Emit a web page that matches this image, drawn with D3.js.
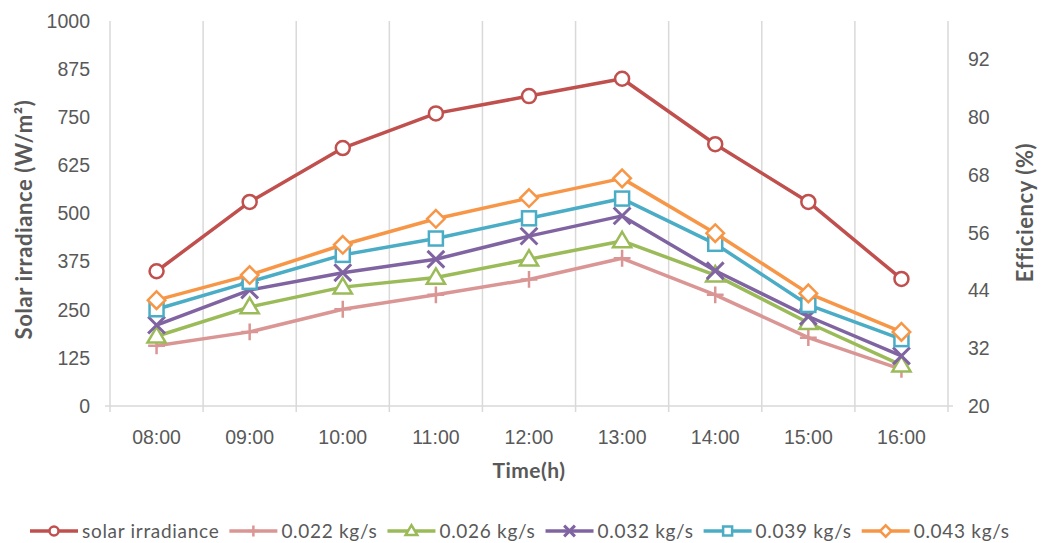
<!DOCTYPE html>
<html>
<head>
<meta charset="utf-8">
<script src="https://cdn.jsdelivr.net/npm/d3@7/dist/d3.min.js"></script>
<style>
  body { margin: 0; background: #fff; }
  svg { font-family: Lato, "Open Sans", sans-serif; }
</style>
</head>
<body>
<div id="chart"></div>
<script>
// categories
const hours = ["08:00", "09:00", "10:00", "11:00", "12:00", "13:00", "14:00", "15:00", "16:00"];

// left axis (W/m2)
const solarIrradiance = [350, 530, 670, 760, 805, 850, 680, 530, 330];

// right axis (%)
const eff022 = [32.5, 35.4, 40.1, 43.1, 46.3, 50.7, 43.1, 34.2, 27.6];
const eff026 = [34.5, 40.6, 44.7, 46.7, 50.5, 54.3, 47.2, 37.3, 28.5];
const eff032 = [36.8, 44.1, 47.7, 50.5, 55.3, 59.5, 48.1, 38.6, 30.4];
const eff039 = [40.1, 45.8, 51.4, 54.8, 59.0, 63.1, 53.7, 41.0, 33.9];
const eff043 = [42.0, 47.2, 53.5, 58.9, 63.2, 67.3, 55.9, 43.4, 35.4];

const leftTicks = [0, 125, 250, 375, 500, 625, 750, 875, 1000];
const rightTicks = [20, 32, 44, 56, 68, 80, 92];

const series = [
  { name: "solar irradiance", values: solarIrradiance, axis: "left",  color: "#c0504d", marker: "circle" },
  { name: "0.022 kg/s",       values: eff022,          axis: "right", color: "#da9694", marker: "plus" },
  { name: "0.026 kg/s",       values: eff026,          axis: "right", color: "#9bbb59", marker: "triangle" },
  { name: "0.032 kg/s",       values: eff032,          axis: "right", color: "#8064a2", marker: "cross" },
  { name: "0.039 kg/s",       values: eff039,          axis: "right", color: "#4bacc6", marker: "square" },
  { name: "0.043 kg/s",       values: eff043,          axis: "right", color: "#f79646", marker: "diamond" }
];

const width = 1042, height = 543;
const margin = { top: 21, right: 94, bottom: 137, left: 110 };
const innerW = width - margin.left - margin.right;
const innerH = height - margin.top - margin.bottom;
const grey = "#595959", lineGrey = "#d9d9d9";

const svg = d3.select("#chart").append("svg")
  .attr("width", width)
  .attr("height", height);

const g = svg.append("g").attr("transform", `translate(${margin.left},${margin.top})`);

const x = d3.scaleBand().domain(hours).range([0, innerW]);
const yLeft = d3.scaleLinear().domain([0, 1000]).range([innerH, 0]);
const yRight = d3.scaleLinear().domain([20, 100]).range([innerH, 0]);

// vertical gridlines at category boundaries
const bounds = hours.map(h => x(h)).concat([innerW]);
g.append("g").selectAll("line")
  .data(bounds)
  .enter().append("line")
  .attr("x1", d => d).attr("x2", d => d)
  .attr("y1", 0).attr("y2", innerH + 6)
  .attr("stroke", lineGrey)
  .attr("stroke-width", 1.5);

// x axis line
g.append("line")
  .attr("x1", -5).attr("x2", innerW + 5)
  .attr("y1", innerH).attr("y2", innerH)
  .attr("stroke", lineGrey).attr("stroke-width", 1.5);

// axes (labels only)
const xAxis = g.append("g")
  .attr("transform", `translate(0,${innerH})`)
  .call(d3.axisBottom(x).tickSize(0).tickPadding(24));

const leftAxis = g.append("g")
  .call(d3.axisLeft(yLeft).tickValues(leftTicks).tickFormat(d3.format("d")).tickSize(0).tickPadding(20));

const rightAxis = g.append("g")
  .attr("transform", `translate(${innerW},0)`)
  .call(d3.axisRight(yRight).tickValues(rightTicks).tickFormat(d3.format("d")).tickSize(0).tickPadding(20));

[xAxis, leftAxis, rightAxis].forEach(a => {
  a.select(".domain").remove();
  a.selectAll("text")
    .attr("fill", grey)
    .style("font-size", "19.5px");
});

// axis titles
svg.append("text")
  .attr("transform", `translate(32,${margin.top + innerH / 2 + 6}) rotate(-90)`)
  .attr("text-anchor", "middle")
  .attr("fill", grey)
  .style("font-size", "22px").style("font-weight", "bold")
  .style("letter-spacing", "0.6px")
  .text("Solar irradiance (W/m²)");

svg.append("text")
  .attr("transform", `translate(1033,${margin.top + innerH / 2 - 1}) rotate(-90)`)
  .attr("text-anchor", "middle")
  .attr("fill", grey)
  .style("font-size", "22px").style("font-weight", "bold")
  .style("letter-spacing", "0.6px")
  .text("Efficiency (%)");

svg.append("text")
  .attr("x", margin.left + innerW / 2)
  .attr("y", 478)
  .attr("text-anchor", "middle")
  .attr("fill", grey)
  .style("font-size", "21px").style("font-weight", "bold")
  .style("letter-spacing", "0.5px")
  .text("Time(h)");

// marker drawing
function drawMarker(sel, type, color, size) {
  const s = size;
  if (type === "circle") {
    sel.append("circle").attr("r", s).attr("fill", "#fff").attr("stroke", color).attr("stroke-width", 2.5);
  } else if (type === "square") {
    sel.append("rect").attr("x", -s).attr("y", -s).attr("width", 2 * s).attr("height", 2 * s)
      .attr("fill", "#fff").attr("stroke", color).attr("stroke-width", 2.5);
  } else if (type === "diamond") {
    sel.append("path").attr("d", `M0,${-s * 1.25}L${s * 1.25},0L0,${s * 1.25}L${-s * 1.25},0Z`)
      .attr("fill", "#fff").attr("stroke", color).attr("stroke-width", 2.5);
  } else if (type === "triangle") {
    sel.append("path").attr("d", `M0,${-s * 1.3}L${s * 1.3},${s * 0.9}L${-s * 1.3},${s * 0.9}Z`)
      .attr("fill", "#fff").attr("stroke", color).attr("stroke-width", 2.5);
  } else if (type === "plus") {
    sel.append("path").attr("d", `M${-s * 1.2},0H${s * 1.2}M0,${-s * 1.2}V${s * 1.2}`)
      .attr("fill", "none").attr("stroke", color).attr("stroke-width", 2.5);
  } else if (type === "cross") {
    sel.append("path").attr("d", `M${-s * 1.2},${-s * 1.2}L${s * 1.2},${s * 1.2}M${-s * 1.2},${s * 1.2}L${s * 1.2},${-s * 1.2}`)
      .attr("fill", "none").attr("stroke", color).attr("stroke-width", 3);
  }
}

// lines and markers
const cx = h => x(h) + x.bandwidth() / 2;

series.forEach(s => {
  const yScale = s.axis === "left" ? yLeft : yRight;
  const line = d3.line()
    .x((d, i) => cx(hours[i]))
    .y(d => yScale(d));

  g.append("path")
    .datum(s.values)
    .attr("d", line)
    .attr("fill", "none")
    .attr("stroke", s.color)
    .attr("stroke-width", 3.5)
    .attr("stroke-linejoin", "round");

  g.append("g").selectAll("g")
    .data(s.values)
    .enter().append("g")
    .attr("transform", (d, i) => `translate(${cx(hours[i])},${yScale(d)})`)
    .each(function() { drawMarker(d3.select(this), s.marker, s.color, 7); });
});

// legend
const legend = svg.append("g").attr("transform", "translate(0,531)");
let lx = 30;
series.forEach(s => {
  const item = legend.append("g").attr("transform", `translate(${lx},0)`);
  item.append("line")
    .attr("x1", 0).attr("x2", 48)
    .attr("stroke", s.color).attr("stroke-width", 3.5);
  drawMarker(item.append("g").attr("transform", "translate(24,0)"), s.marker, s.color, 4.5);
  const t = item.append("text")
    .attr("x", 52)
    .attr("dy", "0.35em")
    .attr("fill", grey)
    .style("font-size", "19px")
    .style("letter-spacing", "0.7px")
    .text(s.name);
  lx += 52 + t.node().getComputedTextLength() + 10;
});
</script>
</body>
</html>
